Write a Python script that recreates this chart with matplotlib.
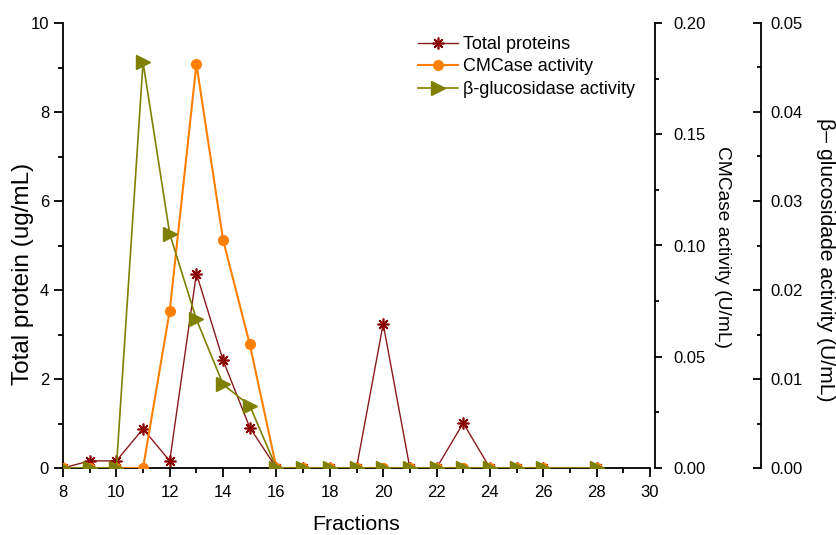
import matplotlib
matplotlib.use("Agg")
import matplotlib.pyplot as plt
from matplotlib.ticker import MultipleLocator

plt.rcParams['font.family'] = ['Liberation Sans', 'DejaVu Sans']

fractions = [8, 9, 10, 11, 12, 13, 14, 15, 16, 17, 18, 19, 20, 21, 22, 23, 24, 25, 26, 28]
total_protein = [0, 0.16, 0.16, 0.88, 0.16, 4.37, 2.42, 0.91, 0, 0, 0, 0, 3.24, 0, 0, 1.01, 0, 0, 0, 0]
cmcase = [0, 0, 0, 0, 0.0707, 0.1816, 0.1025, 0.0556, 0, 0, 0, 0, 0, 0, 0, 0, 0, 0, 0, 0]
bglu = [0, 0, 0, 0.0456, 0.0263, 0.0167, 0.0094, 0.0070, 0, 0, 0, 0, 0, 0, 0, 0, 0, 0, 0, 0]

W, H = 837, 535
fig = plt.figure(figsize=(W / 100, H / 100), dpi=100)
x0, x1, y0, y1 = 63, 650, 468, 23
ax = fig.add_axes([x0 / W, 1 - y0 / H, (x1 - x0) / W, (y0 - y1) / H])
ax2 = ax.twinx()
ax3 = ax.twinx()

c_prot = '#8B1A1A'
c_cmc = '#FF7F00'
c_bg = '#808000'

l1, = ax.plot(fractions, total_protein, color=c_prot, lw=1.0, marker=(8, 2, 0),
              ms=8.5, mec='#8B0000', mew=1.2, label='Total proteins')
l2, = ax2.plot(fractions, cmcase, color=c_cmc, lw=1.5, marker='o', ms=7,
               mec=c_cmc, mfc=c_cmc, label='CMCase activity')
l3, = ax3.plot(fractions, bglu, color=c_bg, lw=1.2, marker='>', ms=9.5,
               mec=c_bg, mfc=c_bg, label='β-glucosidase activity')

ax.set_xlim(8, 30)
ax.set_ylim(0, 10)
ax2.set_ylim(0, 0.20)
ax3.set_ylim(0, 0.05)

for a in (ax, ax2, ax3):
    a.spines['top'].set_visible(False)
    a.patch.set_visible(False)
    for s in a.spines.values():
        s.set_linewidth(1.3)

ax.spines['right'].set_visible(False)
ax2.spines['left'].set_visible(False)
ax2.spines['bottom'].set_visible(False)
ax3.spines['left'].set_visible(False)
ax3.spines['bottom'].set_visible(False)
ax2.spines['right'].set_position(('axes', (655 - x0) / (x1 - x0)))
ax3.spines['right'].set_position(('axes', (761 - x0) / (x1 - x0)))

ax.xaxis.set_major_locator(MultipleLocator(2))
ax.xaxis.set_minor_locator(MultipleLocator(1))
ax.yaxis.set_major_locator(MultipleLocator(2))
ax.yaxis.set_minor_locator(MultipleLocator(1))
ax2.yaxis.set_major_locator(MultipleLocator(0.05))
ax2.yaxis.set_minor_locator(MultipleLocator(0.025))
ax3.yaxis.set_major_locator(MultipleLocator(0.01))
ax3.yaxis.set_minor_locator(MultipleLocator(0.005))
ax2.yaxis.set_major_formatter(plt.FormatStrFormatter('%.2f'))
ax3.yaxis.set_major_formatter(plt.FormatStrFormatter('%.2f'))

ax.tick_params(axis='both', which='major', direction='out', length=6.5, width=1.3,
               labelsize=12, colors='black')
ax.tick_params(axis='both', which='minor', direction='out', length=3.5, width=1.3)
ax.tick_params(axis='x', which='major', pad=6)
ax.tick_params(axis='y', which='both', right=False)
ax2.tick_params(axis='y', which='major', direction='out', length=5, width=1.3,
                labelsize=12, pad=8)
ax2.tick_params(axis='y', which='minor', direction='out', length=3, width=1.3)
ax3.tick_params(axis='y', which='major', direction='in', length=6, width=1.3,
                labelsize=12, pad=7)
ax3.tick_params(axis='y', which='minor', direction='in', length=3, width=1.3)

fig.text(356.5 / W, 1 - 529.5 / H, 'Fractions', fontsize=15.4, ha='center', va='baseline')
fig.text(23 / W, 1 - 274 / H, 'Total protein (ug/mL)', fontsize=17.5, rotation=90,
         ha='center', va='center')
fig.text(723 / W, 1 - 247.5 / H, 'CMCase activity (U/mL)', fontsize=13.8, rotation=270,
         ha='center', va='center')
fig.text(826 / W, 1 - 118 / H, 'β– glucosidade activity (U/mL)', fontsize=15.2,
         rotation=270, ha='center', va='top')

fig.legend(handles=[l1, l2, l3], loc='upper left', bbox_to_anchor=(418 / W, 1 - 36 / H),
           frameon=False, fontsize=13, handlelength=2.2, handletextpad=0.3,
           labelspacing=0.3, borderaxespad=0, borderpad=0)

fig.savefig('out.png', dpi=100)
